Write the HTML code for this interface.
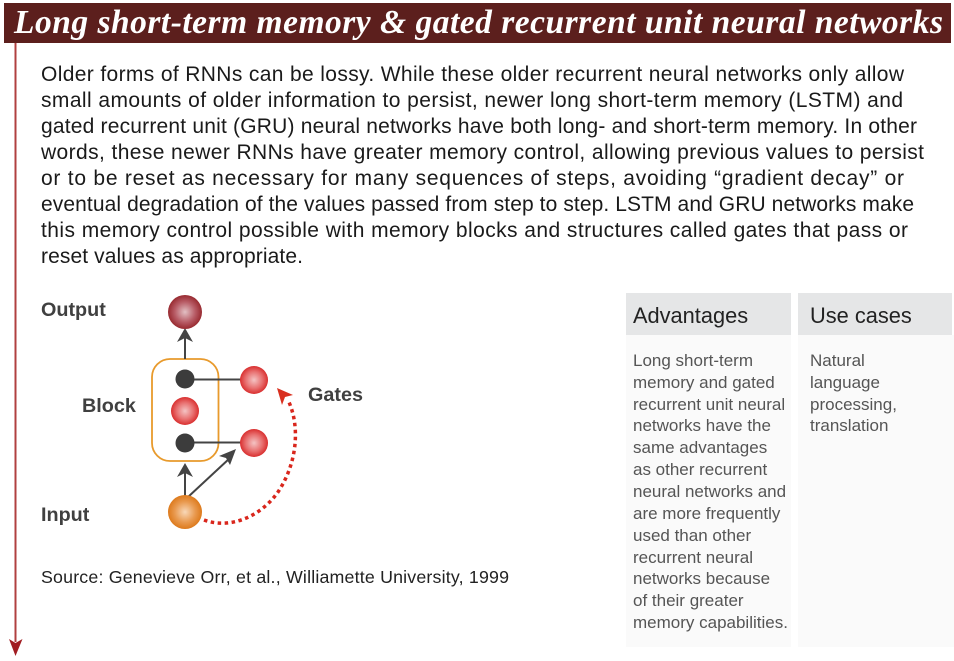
<!DOCTYPE html>
<html><head><meta charset="utf-8"><style>
html,body{margin:0;padding:0;background:#fff}
svg{display:block}
text{font-family:"Liberation Sans",sans-serif}
.b{font-size:21px;fill:#1a1a1a}
.s{font-size:17px;fill:#555}
.l{font-size:19.8px;font-weight:bold;fill:#404040}
.h{font-size:21.8px;fill:#222}
</style></head><body>
<svg width="954" height="661" viewBox="0 0 954 661" xmlns="http://www.w3.org/2000/svg">
<defs>
<radialGradient id="gr"><stop offset="0" stop-color="#f4c4c4"/><stop offset=".6" stop-color="#e87070"/><stop offset="1" stop-color="#d92f2f"/></radialGradient>
<radialGradient id="gd"><stop offset="0" stop-color="#e2c0c4"/><stop offset=".6" stop-color="#b85c66"/><stop offset="1" stop-color="#982a30"/></radialGradient>
<radialGradient id="go"><stop offset="0" stop-color="#f8d8b8"/><stop offset=".6" stop-color="#e99a50"/><stop offset="1" stop-color="#dd7a1c"/></radialGradient>
</defs>
<rect x="4" y="3" width="947" height="40" fill="#5c1f1d"/>
<text x="14" y="33" style="font-family:'Liberation Serif',serif;font-size:33.5px;font-weight:bold;font-style:italic;fill:#fff" textLength="929">Long short-term memory &amp; gated recurrent unit neural networks</text>
<line x1="15.5" y1="43" x2="15.5" y2="642" stroke="#b04040" stroke-width="2"/>
<polygon points="9,639 15.5,643 22.5,639 15.5,656" fill="#a11d22"/>

<text class="b" x="41" y="81" textLength="863">Older forms of RNNs can be lossy. While these older recurrent neural networks only allow</text>
<text class="b" x="41" y="107" textLength="862">small amounts of older information to persist, newer long short-term memory (LSTM) and</text>
<text class="b" x="41" y="133" textLength="876">gated recurrent unit (GRU) neural networks have both long- and short-term memory. In other</text>
<text class="b" x="41" y="159" textLength="883">words, these newer RNNs have greater memory control, allowing previous values to persist</text>
<text class="b" x="41" y="185" textLength="863">or to be reset as necessary for many sequences of steps, avoiding “gradient decay” or</text>
<text class="b" x="41" y="211" textLength="873">eventual degradation of the values passed from step to step. LSTM and GRU networks make</text>
<text class="b" x="41" y="237" textLength="867">this memory control possible with memory blocks and structures called gates that pass or</text>
<text class="b" x="41" y="263" textLength="262">reset values as appropriate.</text>

<text class="l" x="41" y="316">Output</text>
<text class="l" x="82" y="412">Block</text>
<text class="l" x="308" y="401">Gates</text>
<text class="l" x="41" y="521">Input</text>
<text x="41" y="583" style="font-size:17.800px;fill:#222" textLength="468">Source: Genevieve Orr, et al., Williamette University, 1999</text>

<rect x="152" y="359" width="66.500" height="102" rx="18" fill="none" stroke="#e89a2c" stroke-width="1.800"/>
<g stroke="#444" stroke-width="2" fill="none">
<line x1="185" y1="359" x2="185" y2="335"/>
<line x1="185" y1="379.500" x2="241" y2="379.500"/>
<line x1="185" y1="442.500" x2="241" y2="442.500"/>
<line x1="185" y1="497" x2="185" y2="470"/>
<line x1="188" y1="497" x2="230" y2="458"/>
</g>
<polygon points="185,328 193,342 185,338 177,342" fill="#444"/>
<polygon points="185,463 193,477 185,473 177,477" fill="#444"/>
<polygon points="236,449 230,465 226,458 219,456" fill="#444"/>
<circle cx="185" cy="312" r="17" fill="url(#gd)"/>
<circle cx="185" cy="379" r="9.500" fill="#3c3c3c"/>
<circle cx="185" cy="411" r="14" fill="url(#gr)"/>
<circle cx="185" cy="443" r="9.500" fill="#3c3c3c"/>
<circle cx="254" cy="380" r="14" fill="url(#gr)"/>
<circle cx="254" cy="443" r="14" fill="url(#gr)"/>
<circle cx="185" cy="512" r="17" fill="url(#go)"/>
<path d="M204 520 C232 530 262 515 278 492 C298 462 300 425 288 400" fill="none" stroke="#d9261c" stroke-width="3.500" stroke-dasharray="3.500 3.500"/>
<polygon points="277,388 293,395 285,397 282,405" fill="#d9301f"/>

<rect x="626" y="293" width="165" height="42" fill="#e5e6e7"/>
<rect x="798" y="293" width="154" height="42" fill="#e5e6e7"/>
<rect x="626" y="335" width="165" height="312" fill="#fafafa"/>
<rect x="798" y="335" width="156" height="312" fill="#fafafa"/>
<text class="h" x="633" y="323">Advantages</text>
<text class="h" x="810" y="323">Use cases</text>
<text class="s" x="633" y="366">Long short-term</text>
<text class="s" x="633" y="388">memory and gated</text>
<text class="s" x="633" y="410">recurrent unit neural</text>
<text class="s" x="633" y="431">networks have the</text>
<text class="s" x="633" y="453">same advantages</text>
<text class="s" x="633" y="475">as other recurrent</text>
<text class="s" x="633" y="497">neural networks and</text>
<text class="s" x="633" y="519">are more frequently</text>
<text class="s" x="633" y="541">used than other</text>
<text class="s" x="633" y="563">recurrent neural</text>
<text class="s" x="633" y="584">networks because</text>
<text class="s" x="633" y="606">of their greater</text>
<text class="s" x="633" y="628">memory capabilities.</text>
<text class="s" x="810" y="366">Natural</text>
<text class="s" x="810" y="388">language</text>
<text class="s" x="810" y="410">processing,</text>
<text class="s" x="810" y="431">translation</text>
</svg>
</body></html>
